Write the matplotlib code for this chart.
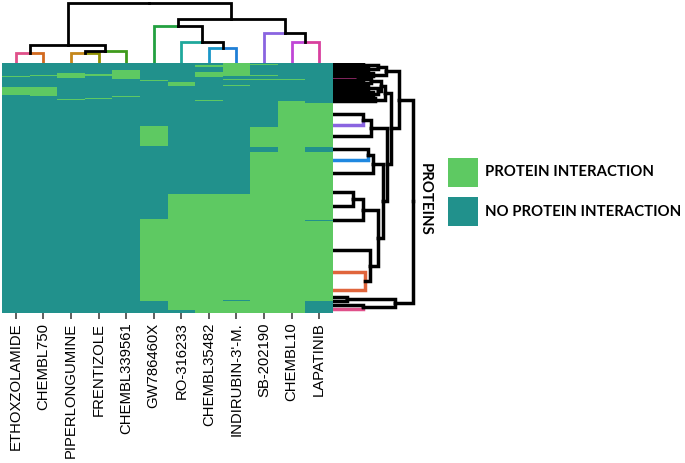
import numpy as np
import matplotlib
matplotlib.use('Agg')
import matplotlib.pyplot as plt
from matplotlib.colors import ListedColormap
from matplotlib.patches import Rectangle

# ---------------- data ----------------
drugs = ['ETHOXZOLAMIDE', 'CHEMBL750', 'PIPERLONGUMINE', 'FRENTIZOLE', 'CHEMBL339561',
         'GW786460X', 'RO-316233', 'CHEMBL35482', "INDIRUBIN-3'-M.", 'SB-202190',
         'CHEMBL10', 'LAPATINIB']

# protein row blocks (top to bottom): block heights and drug columns with an interaction
row_heights = [1, 1, 2, 3, 2, 1, 1, 1, 1, 1, 1, 1, 1, 1, 1, 3, 1, 1, 8, 1, 1, 1, 1, 1, 1,
               2, 23, 1, 19, 1, 5, 42, 25, 1, 1, 79, 1, 9, 3]
row_hits = [[8], [8, 9], [7, 8], [8], [4, 8], [4, 7, 8], [2, 4, 7, 8], [2, 3, 4, 7, 8],
            [1, 2, 3, 4, 7, 8, 9], [0, 2, 4, 7], [2, 4], [4], [8, 9, 10], [5], [], [6], [6, 8],
            [], [0, 1], [1], [4], [], [3], [2], [7], [10], [10, 11], [5, 10, 11],
            [5, 9, 10, 11], [9, 10, 11], [10], [9, 10, 11], [6, 7, 8, 9, 10, 11],
            [5, 6, 7, 8, 9, 10, 11], [5, 6, 7, 8, 9, 10], [5, 6, 7, 8, 9, 10, 11],
            [5, 6, 7, 9, 10, 11], [6, 7, 8, 9, 10], [7, 8, 9, 10]]

# column dendrogram (linkage style: child a, child b, height); leaves 0..11
col_merges = [(0, 1, 10.3), (2, 3, 10.3), (13, 4, 12.0), (12, 14, 18.0), (7, 8, 14.7),
              (6, 16, 21.3), (5, 17, 37.0), (10, 11, 21.3), (9, 19, 30.0), (18, 20, 43.7),
              (15, 21, 60.3)]
col_leaf_colors = ['#e0508a', '#d2691e', '#c4861a', '#8f8f00', '#3f9a1c', '#22a040',
                   '#1fa89c', '#1a96c8', '#1f7fd6', '#8a64e0', '#c046d6', '#d8409e']

# row dendrogram: leaf row positions and merges
row_leaf_pos = [1, 3, 5, 7, 9, 11, 13, 15, 17, 19, 21, 23, 26, 29, 32, 35, 38,
                51, 62, 73, 86, 97, 110, 129, 143, 157, 187, 209, 227, 234, 238, 242, 246]
row_merges = [(0, 1, 30), (2, 3, 35), (33, 34, 45), (4, 5, 28), (36, 6, 40), (35, 37, 53),
              (7, 8, 25), (9, 10, 30), (39, 40, 38), (11, 12, 35), (13, 14, 40), (42, 43, 45),
              (41, 44, 48), (15, 16, 42), (45, 46, 52), (17, 18, 30), (48, 19, 38),
              (20, 21, 35), (50, 22, 40), (23, 24, 20), (52, 25, 30), (27, 28, 32),
              (26, 54, 37), (53, 55, 45), (51, 56, 50), (49, 57, 54), (47, 58, 58),
              (38, 59, 66), (29, 30, 14), (31, 32, 30), (61, 62, 62), (60, 63, 80)]
row_leaf_colors = {7: '#d8409e', 18: '#8a64e0', 21: '#1f88e0', 27: '#e0653c',
                   28: '#e0653c', 32: '#e0508a'}

legend_labels = ['PROTEIN INTERACTION', 'NO PROTEIN INTERACTION']
GREEN = '#5ec962'
TEAL = '#21918c'

# ---------------- figure ----------------
W, H = 685, 463
fig = plt.figure(figsize=(W / 100, H / 100), dpi=100)


def px_axes(x0, y0, x1, y1):
    return fig.add_axes([x0 / W, 1 - y1 / H, (x1 - x0) / W, (y1 - y0) / H])


def draw_dendro(ax, leaf_pos, merges, leaf_colors, orient, lw):
    n = len(leaf_pos)
    pos = list(leaf_pos)
    hgt = [0.0] * n
    for a, b, h in merges:
        node = (pos[a] + pos[b]) / 2.0
        for c in (a, b):
            col = leaf_colors.get(c, 'black') if c < n else 'black'
            p = [pos[c], pos[c], node]
            q = [hgt[c], h, h]
            xs, ys = (p, q) if orient == 'top' else (q, p)
            ax.plot(xs, ys, color=col, lw=lw, solid_capstyle='projecting',
                    solid_joinstyle='miter', zorder=3 if col == 'black' else 2)
        pos.append(node)
        hgt.append(h)


# heatmap
ax = px_axes(2, 63, 333, 313)
nrows = len(row_heights)
M = np.zeros((nrows, len(drugs)))
for i, hits in enumerate(row_hits):
    M[i, hits] = 1
y_edges = np.concatenate([[0], np.cumsum(row_heights)])
x_edges = np.arange(len(drugs) + 1)
ax.pcolormesh(x_edges, y_edges, M, cmap=ListedColormap([TEAL, GREEN]), vmin=0, vmax=1)
ax.set_xlim(0, len(drugs))
ax.set_ylim(y_edges[-1], 0)
for s in ax.spines.values():
    s.set_visible(False)
ax.set_yticks([])
ax.set_xticks(np.arange(len(drugs)) + 0.5)
ax.set_xticklabels(drugs, rotation=90, fontsize=10.7, family='Liberation Sans', color='black')
ax.tick_params(axis='x', length=4, width=1.1, color='#333333', pad=3)

# column dendrogram
axt = px_axes(2, 0, 333, 63)
draw_dendro(axt, [i + 0.5 for i in range(len(drugs))], col_merges,
            dict(enumerate(col_leaf_colors)), 'top', 2.0)
axt.set_xlim(0, len(drugs))
axt.set_ylim(0, 63)
axt.axis('off')

# row dendrogram
axr = px_axes(333, 63, 420, 313)
draw_dendro(axr, row_leaf_pos, row_merges, row_leaf_colors, 'right', 2.5)
axr.set_ylim(y_edges[-1], 0)
axr.set_xlim(0, 87)
axr.axis('off')

# legend and side label
ov = fig.add_axes([0, 0, 1, 1])
ov.set_xlim(0, W)
ov.set_ylim(H, 0)
ov.axis('off')
for k, (lab, col) in enumerate(zip(legend_labels, [GREEN, TEAL])):
    y0 = 158 + k * 39
    ov.add_patch(Rectangle((448, y0), 30, 29, facecolor=col, edgecolor='none'))
    ov.text(485, y0 + 14.5, lab, fontsize=10.7, fontweight='bold', family='Lato',
            va='center', ha='left', color='black')
ov.text(425, 199, 'PROTEINS', rotation=-90, fontsize=10.7, fontweight='bold', family='Lato',
        va='center', ha='center', color='black')

fig.savefig('out.png', dpi=100)
